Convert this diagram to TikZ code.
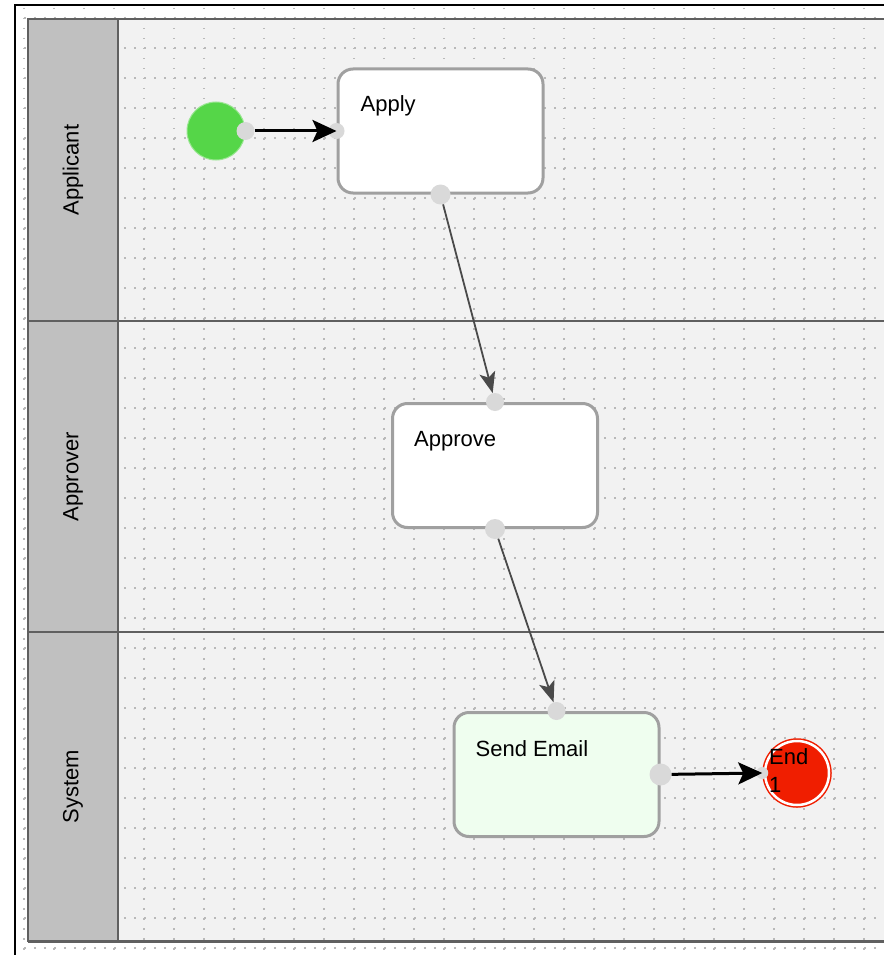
\documentclass[tikz,border=0pt]{standalone}
\usepackage{fontspec}
\setmainfont{Liberation Sans}
\usetikzlibrary{arrows.meta}
\usetikzlibrary{calc}

\definecolor{lanegray}{HTML}{C0C0C0}
\definecolor{laneedge}{HTML}{606060}
\definecolor{lanebody}{HTML}{F2F2F2}
\definecolor{taskedge}{HTML}{A0A0A0}
\definecolor{portgray}{HTML}{D9D9D9}
\definecolor{flowgray}{HTML}{4A4A4A}
\definecolor{startgreen}{HTML}{55D648}
\definecolor{endred}{HTML}{F01E00}
\definecolor{sendfill}{HTML}{EFFEEF}

\tikzset{
  lanehead/.style={shape=rectangle, rotate=90, minimum height=90pt, draw=laneedge, line width=2pt, fill=lanegray, font=\fontsize{22}{26}\selectfont},
  task/.style={shape=rectangle, rounded corners=15pt, minimum width=205pt, minimum height=124pt, draw=taskedge, line width=3pt, fill=white},
  tasktext/.style={anchor=north west, inner sep=0pt, font=\fontsize{22}{28}\selectfont},
  port/.style={shape=circle, inner sep=0pt, minimum size=18pt, fill=portgray},
  flowmain/.style={-{Stealth[length=24pt,width=22pt,inset=5pt]}, line width=3pt, draw=black},
  flowsub/.style={-{Stealth[length=21pt,width=16pt,inset=5pt]}, line width=1.8pt, draw=flowgray},
  griddots/.style={draw=gray!55, line width=1.5pt, dash pattern=on 1.5pt off 8.5pt},
  poolline/.style={draw=laneedge, line width=2pt}
}

\begin{document}
\begin{tikzpicture}[x=1pt, y=-1pt]
\useasboundingbox (0,0) rectangle (884,955);
\fill[white] (0,0) rectangle (884,955);
% lanes
\fill[lanebody] (118,19) rectangle (884,941);
\foreach \gx in {24,54,...,864}
  \draw[griddots] (\gx,8) -- (\gx,955);
\foreach \gy in {18,48,...,948}
  \draw[griddots] (24,\gy) -- (884,\gy);
\draw[poolline] (28,19) -- (884,19);
\draw[poolline] (28,321) -- (884,321);
\draw[poolline] (28,632) -- (884,632);
\draw[poolline, line width=3pt] (28,941) -- (884,941);
\node[lanehead, minimum width=302pt] (applicant) at (73,170) {Applicant};
\node[lanehead, minimum width=311pt] (approver) at (73,476.5) {Approver};
\node[lanehead, minimum width=309pt] (system) at (73,786.5) {System};
\draw[line width=2pt] (15,955) -- (15,5) -- (884,5);

% events and tasks
\node[shape=circle, minimum size=58pt, fill=startgreen, draw=startgreen!60!white, line width=1pt] (start) at (216,131) {};
\node[task] (apply) at (440.5,131) {};
\node[tasktext] at ([shift={(24,28)}]apply.north west) {Apply};
\node[task] (approve) at (495,465.5) {};
\node[tasktext] at ([shift={(23,29)}]approve.north west) {Approve};
\node[task, fill=sendfill] (sendmail) at (556.5,774.5) {};
\node[tasktext] at ([shift={(23,29)}]sendmail.north west) {Send Email};
\node[shape=circle, minimum size=64pt, fill=endred, draw=endred, double=white, double distance=2.5pt, line width=1.5pt] (finish) at (797,773) {};

% ports
\node[port] (startout) at (start.east) {};
\node[port, minimum size=16pt] (applyin) at (apply.west) {};
\node[port, minimum size=20pt] (applyout) at (apply.south) {};
\node[port] (approvein) at (approve.north) {};
\node[port, minimum size=20pt] (approveout) at (approve.south) {};
\node[port] (sendin) at (sendmail.north) {};
\node[port, minimum size=22pt] (sendout) at (sendmail.east) {};
\node[port, minimum size=12pt] (finishin) at ([xshift=-2pt]finish.west) {};
\node[tasktext, align=left] (finishtext) at (769,748) {End\\1};

% flows
\draw[flowmain] (startout) -- (applyin.center);
\draw[flowsub] (applyout) -- (approvein);
\draw[flowsub] (approveout) -- (sendin);
\draw[flowmain] (sendout) -- (finishin.center);
\end{tikzpicture}
\end{document}
